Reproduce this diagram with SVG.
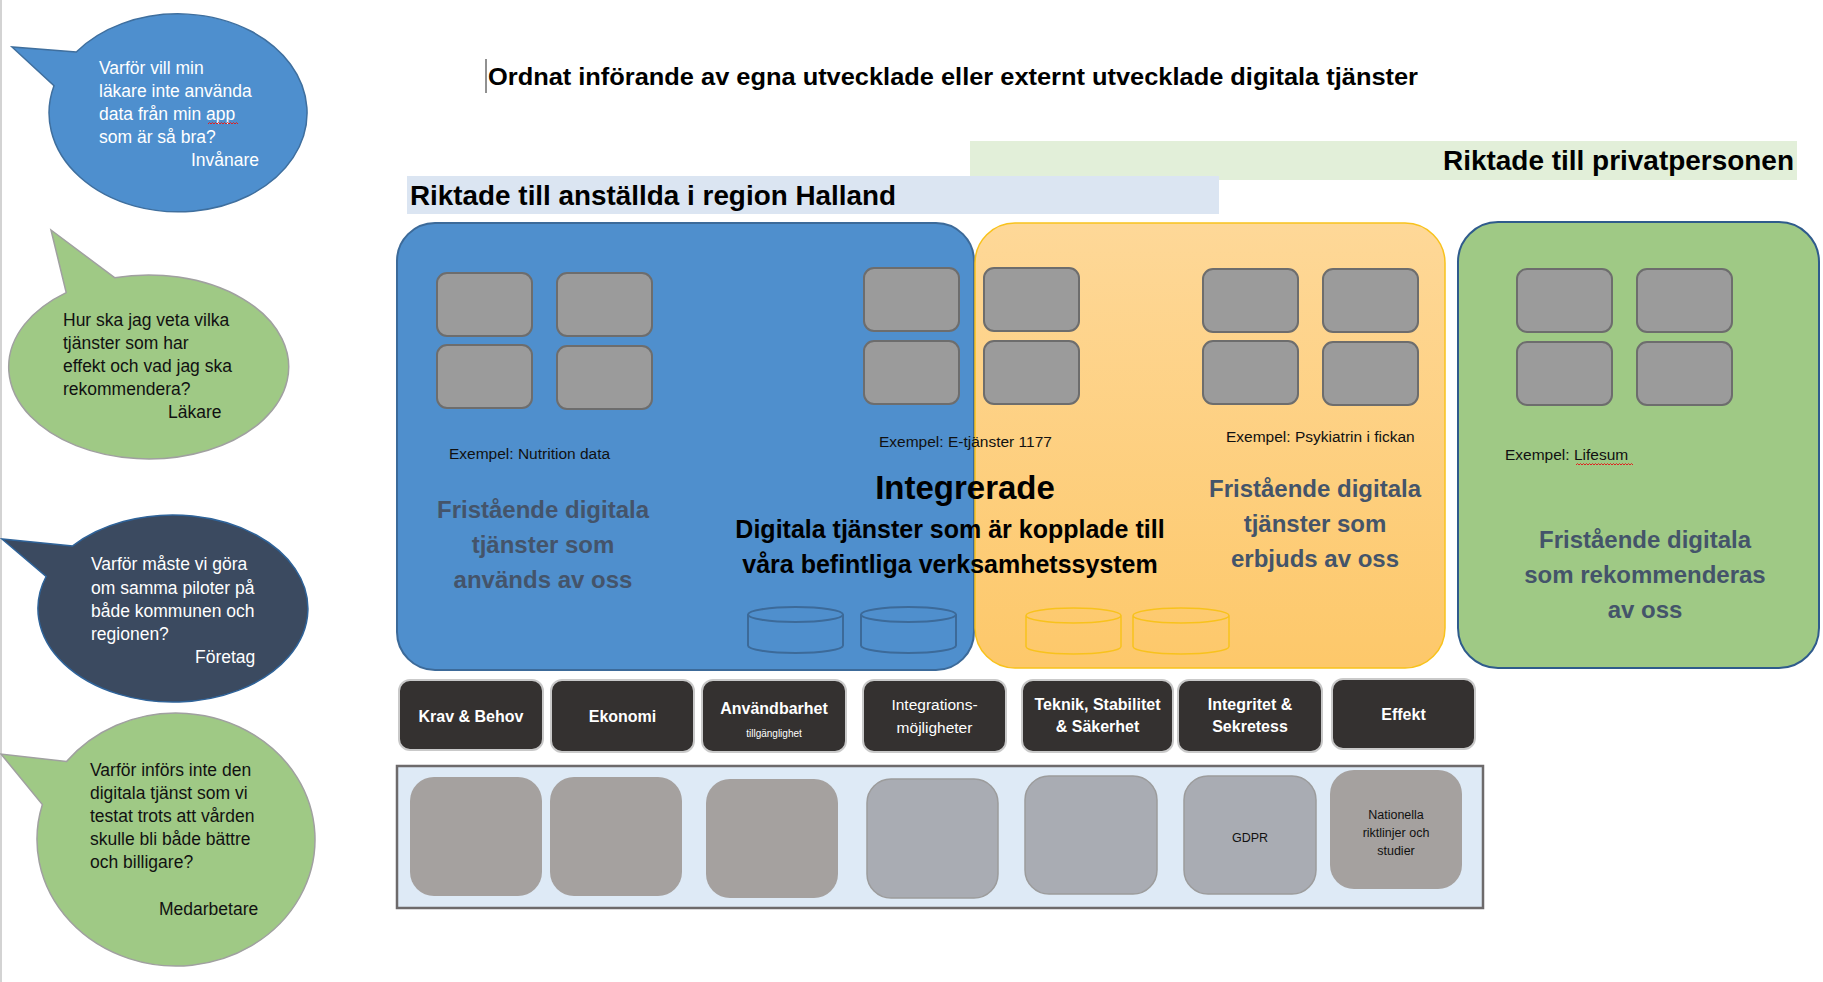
<svg xmlns="http://www.w3.org/2000/svg" width="1823" height="982" viewBox="0 0 1823 982">
<defs>
<linearGradient id="og" x1="0" y1="0" x2="0" y2="1">
<stop offset="0" stop-color="#fed898"/>
<stop offset="1" stop-color="#fdc86a"/>
</linearGradient>
</defs>
<style>
text{font-family:"Liberation Sans",Arial,sans-serif}
.bq{font-size:17.5px}
.w{fill:#ffffff}
.k{fill:#111111}
.sq{fill:#9b9b9b;stroke:#6d6d6d;stroke-width:2}
.slate{fill:#44546a;font-weight:bold;font-size:24px;text-anchor:middle}
.ex{font-size:15.5px;fill:#111111}
.cr{fill:#343130;stroke:#c9c9c9;stroke-width:2}
.crt{fill:#ffffff;font-weight:bold;font-size:16px;text-anchor:middle}
.warm{fill:#a5a19f}
.cool{fill:#a9acb3;stroke:#9c9c9c;stroke-width:1.5}
.bt{font-size:12.5px;fill:#111111;text-anchor:middle}
.sqg{fill:none;stroke:#e02020;stroke-width:1}
</style>
<rect x="0" y="0" width="1823" height="982" fill="#ffffff"/>
<line x1="1" y1="0" x2="1" y2="982" stroke="#c4c4c4" stroke-width="1.5"/>

<g id="bubble-invanare">
<path d="M76.3 52 L12 47 L54 85.7 A129 99 0 1 0 76.3 52 Z" fill="#4e8fce" stroke="#3f6f9e" stroke-width="1.5"/>
<text class="bq w" x="99" y="74">Varför vill min</text>
<text class="bq w" x="99" y="97">läkare inte använda</text>
<text class="bq w" x="99" y="120">data från min app</text>
<text class="bq w" x="99" y="143">som är så bra?</text>
<text class="bq w" x="191" y="166">Invånare</text>
<path class="sqg" d="M208 124 l1.5 -1.5 l1.5 1.5 l1.5 -1.5 l1.5 1.5 l1.5 -1.5 l1.5 1.5 l1.5 -1.5 l1.5 1.5 l1.5 -1.5 l1.5 1.5 l1.5 -1.5 l1.5 1.5 l1.5 -1.5 l1.5 1.5 l1.5 -1.5 l1.5 1.5 l1.5 -1.5 l1.5 1.5 l1.5 -1.5 l1.5 1.5"/>
</g>

<g id="bubble-lakare">
<path d="M114.6 277.7 L51 230 L66.2 292.6 A140 92 0 1 0 114.6 277.7 Z" fill="#9fc985" stroke="#a0a0a0" stroke-width="1.5"/>
<text class="bq k" x="63" y="326">Hur ska jag veta vilka</text>
<text class="bq k" x="63" y="349">tjänster som har</text>
<text class="bq k" x="63" y="372">effekt och vad jag ska</text>
<text class="bq k" x="63" y="395">rekommendera?</text>
<text class="bq k" x="168" y="418">Läkare</text>
</g>

<g id="bubble-foretag">
<path d="M72.7 545.9 L2 539 L46.1 576.5 A135 93.5 0 1 0 72.7 545.9 Z" fill="#3b4a60" stroke="#2f6399" stroke-width="1.5"/>
<text class="bq w" x="91" y="570">Varför måste vi göra</text>
<text class="bq w" x="91" y="594">om samma piloter på</text>
<text class="bq w" x="91" y="617">både kommunen och</text>
<text class="bq w" x="91" y="640">regionen?</text>
<text class="bq w" x="195" y="663">Företag</text>
</g>

<g id="bubble-medarbetare">
<path d="M66.5 761.6 L1 754 L42.4 804.6 A139 126.5 0 1 0 66.5 761.6 Z" fill="#9fc985" stroke="#a0a0a0" stroke-width="1.5"/>
<text class="bq k" x="90" y="776">Varför införs inte den</text>
<text class="bq k" x="90" y="799">digitala tjänst som vi</text>
<text class="bq k" x="90" y="822">testat trots att vården</text>
<text class="bq k" x="90" y="845">skulle bli både bättre</text>
<text class="bq k" x="90" y="868">och billigare?</text>
<text class="bq k" x="159" y="915">Medarbetare</text>
</g>

<g id="title">
<line x1="486" y1="59" x2="486" y2="93" stroke="#222222" stroke-width="1"/>
<text x="488" y="85" font-size="23" font-weight="bold" fill="#000000" textLength="930" lengthAdjust="spacingAndGlyphs">Ordnat införande av egna utvecklade eller externt utvecklade digitala tjänster</text>
</g>

<g id="band-privat">
<rect x="970" y="141" width="827" height="39" fill="#e2efd9"/>
<text x="1794" y="170" font-size="27" font-weight="bold" fill="#000000" text-anchor="end" textLength="351" lengthAdjust="spacingAndGlyphs">Riktade till privatpersonen</text>
</g>

<g id="band-anstallda">
<rect x="407" y="176" width="812" height="38" fill="#dbe5f2"/>
<text x="410" y="205" font-size="27" font-weight="bold" fill="#000000" textLength="486" lengthAdjust="spacingAndGlyphs">Riktade till anställda i region Halland</text>
</g>

<g id="box-anvands">
<rect x="397" y="223" width="577" height="447" rx="38" fill="#4f8fcd" stroke="#3c6a99" stroke-width="2"/>
<rect class="sq" x="437" y="273" width="95" height="63" rx="10"/>
<rect class="sq" x="557" y="273" width="95" height="63" rx="10"/>
<rect class="sq" x="437" y="345" width="95" height="63" rx="10"/>
<rect class="sq" x="557" y="346" width="95" height="63" rx="10"/>
<text class="ex" x="449" y="459">Exempel: Nutrition data</text>
<text class="slate" x="543" y="518">Fristående digitala</text>
<text class="slate" x="543" y="553">tjänster som</text>
<text class="slate" x="543" y="588">används av oss</text>
</g>

<g id="box-erbjuds">
<rect x="975" y="223" width="470" height="445" rx="40" fill="url(#og)" stroke="#f8c21c" stroke-width="1.5"/>
<rect class="sq" x="1203" y="269" width="95" height="63" rx="10"/>
<rect class="sq" x="1323" y="269" width="95" height="63" rx="10"/>
<rect class="sq" x="1203" y="341" width="95" height="63" rx="10"/>
<rect class="sq" x="1323" y="342" width="95" height="63" rx="10"/>
<text class="ex" x="1226" y="442">Exempel: Psykiatrin i fickan</text>
<text class="slate" x="1315" y="497">Fristående digitala</text>
<text class="slate" x="1315" y="532">tjänster som</text>
<text class="slate" x="1315" y="567">erbjuds av oss</text>
</g>

<g id="box-integrerade">
<rect class="sq" x="864" y="268" width="95" height="63" rx="10"/>
<rect class="sq" x="864" y="341" width="95" height="63" rx="10"/>
<rect class="sq" x="984" y="268" width="95" height="63" rx="10"/>
<rect class="sq" x="984" y="341" width="95" height="63" rx="10"/>
<g fill="none" stroke="#3c6a99" stroke-width="2">
<path d="M748 614.5 A47.5 7.5 0 0 1 843 614.5 A47.5 7.5 0 0 1 748 614.5 Z M748 614.5 L748 645.5 A47.5 7.5 0 0 0 843 645.5 L843 614.5"/>
<path d="M861 614.5 A47.5 7.5 0 0 1 956 614.5 A47.5 7.5 0 0 1 861 614.5 Z M861 614.5 L861 645.5 A47.5 7.5 0 0 0 956 645.5 L956 614.5"/>
</g>
<g fill="none" stroke="#f8c21c" stroke-width="1.5">
<path d="M1026 615.5 A47.5 7.5 0 0 1 1121 615.5 A47.5 7.5 0 0 1 1026 615.5 Z M1026 615.5 L1026 646.5 A47.5 7.5 0 0 0 1121 646.5 L1121 615.5"/>
<path d="M1133 615.5 A48 7.5 0 0 1 1229 615.5 A48 7.5 0 0 1 1133 615.5 Z M1133 615.5 L1133 646.5 A48 7.5 0 0 0 1229 646.5 L1229 615.5"/>
</g>
<text class="ex" x="879" y="447">Exempel: E-tjänster 1177</text>
<text x="965" y="499" font-size="33" font-weight="bold" fill="#000000" text-anchor="middle">Integrerade</text>
<text x="950" y="538" font-size="25" font-weight="bold" fill="#000000" text-anchor="middle">Digitala tjänster som är kopplade till</text>
<text x="950" y="573" font-size="25" font-weight="bold" fill="#000000" text-anchor="middle">våra befintliga verksamhetssystem</text>
</g>

<g id="box-rekommenderas">
<rect x="1458" y="222" width="361" height="446" rx="40" fill="#9fc985" stroke="#2f5b8c" stroke-width="2"/>
<rect class="sq" x="1517" y="269" width="95" height="63" rx="10"/>
<rect class="sq" x="1637" y="269" width="95" height="63" rx="10"/>
<rect class="sq" x="1517" y="342" width="95" height="63" rx="10"/>
<rect class="sq" x="1637" y="342" width="95" height="63" rx="10"/>
<text class="ex" x="1505" y="460">Exempel: Lifesum</text>
<path class="sqg" d="M1576 465 l1.5 -1.5 l1.5 1.5 l1.5 -1.5 l1.5 1.5 l1.5 -1.5 l1.5 1.5 l1.5 -1.5 l1.5 1.5 l1.5 -1.5 l1.5 1.5 l1.5 -1.5 l1.5 1.5 l1.5 -1.5 l1.5 1.5 l1.5 -1.5 l1.5 1.5 l1.5 -1.5 l1.5 1.5 l1.5 -1.5 l1.5 1.5 l1.5 -1.5 l1.5 1.5 l1.5 -1.5 l1.5 1.5 l1.5 -1.5 l1.5 1.5 l1.5 -1.5 l1.5 1.5 l1.5 -1.5 l1.5 1.5 l1.5 -1.5 l1.5 1.5 l1.5 -1.5 l1.5 1.5 l1.5 -1.5 l1.5 1.5 l1.5 -1.5 l1.5 1.5"/>
<text class="slate" x="1645" y="548">Fristående digitala</text>
<text class="slate" x="1645" y="583">som rekommenderas</text>
<text class="slate" x="1645" y="618">av oss</text>
</g>

<g id="criteria">
<g id="crit-krav"><rect class="cr" x="399" y="680" width="144" height="70" rx="11"/><text class="crt" x="471" y="722">Krav &amp; Behov</text></g>
<g id="crit-ekonomi"><rect class="cr" x="551" y="680" width="143" height="72" rx="11"/><text class="crt" x="622.5" y="722">Ekonomi</text></g>
<g id="crit-anvandbarhet"><rect class="cr" x="702" y="680" width="144" height="72" rx="11"/><text class="crt" x="774" y="714">Användbarhet</text><text x="774" y="737" font-size="10" fill="#ffffff" text-anchor="middle">tillgänglighet</text></g>
<g id="crit-integrations"><rect class="cr" x="863" y="680" width="143" height="72" rx="11"/><text x="934.5" y="710" font-size="15.5" fill="#ffffff" text-anchor="middle">Integrations-</text><text x="934.5" y="733" font-size="15.5" fill="#ffffff" text-anchor="middle">möjligheter</text></g>
<g id="crit-teknik"><rect class="cr" x="1022" y="680" width="151" height="72" rx="11"/><text class="crt" x="1097.5" y="710">Teknik, Stabilitet</text><text class="crt" x="1097.5" y="732">&amp; Säkerhet</text></g>
<g id="crit-integritet"><rect class="cr" x="1178" y="680" width="144" height="72" rx="11"/><text class="crt" x="1250" y="710">Integritet &amp;</text><text class="crt" x="1250" y="732">Sekretess</text></g>
<g id="crit-effekt"><rect class="cr" x="1332" y="679" width="143" height="70" rx="11"/><text class="crt" x="1403.5" y="720">Effekt</text></g>
</g>

<g id="foundation">
<rect x="397" y="766" width="1086" height="142" fill="#deeaf6" stroke="#6d6a6b" stroke-width="2.5"/>
<rect class="warm" x="410" y="777" width="132" height="119" rx="24"/>
<rect class="warm" x="550" y="777" width="132" height="119" rx="24"/>
<rect class="warm" x="706" y="779" width="132" height="119" rx="24"/>
<rect class="cool" x="867" y="779" width="131" height="119" rx="24"/>
<rect class="cool" x="1025" y="776" width="132" height="118" rx="24"/>
<g id="gdpr"><rect class="cool" x="1184" y="776" width="132" height="118" rx="24"/><text class="bt" x="1250" y="842">GDPR</text></g>
<g id="nationella"><rect class="warm" x="1330" y="770" width="132" height="119" rx="24"/><text class="bt" x="1396" y="819">Nationella</text><text class="bt" x="1396" y="837">riktlinjer och</text><text class="bt" x="1396" y="855">studier</text></g>
</g>

<g id="connectors"/>
</svg>
